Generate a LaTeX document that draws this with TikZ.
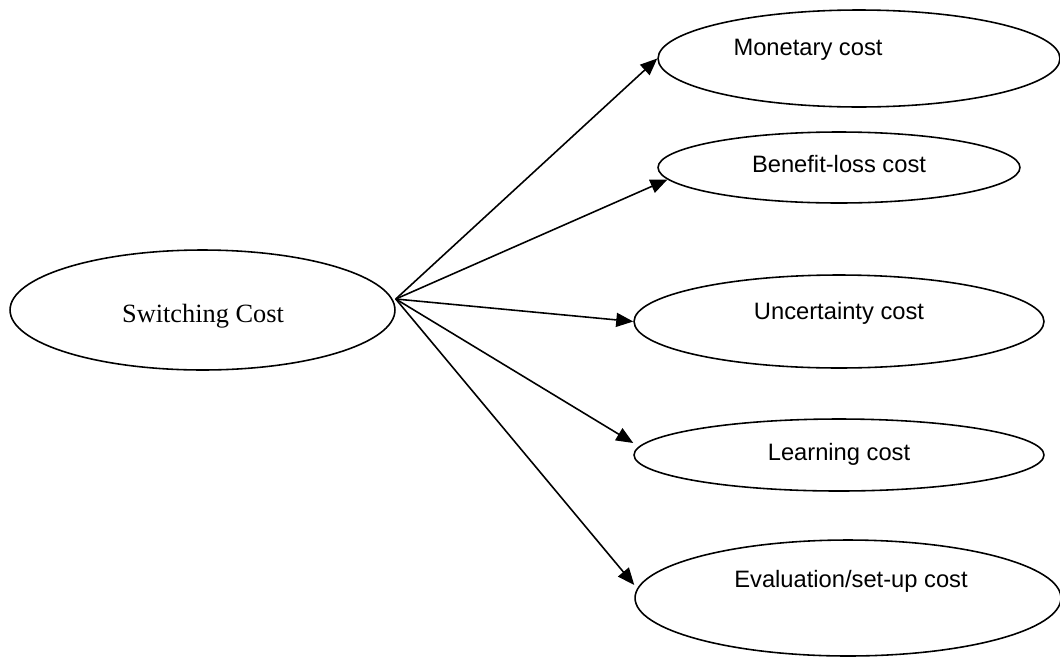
\documentclass[tikz,border=0pt]{standalone}
\usepackage{fontspec}
\setmainfont{Liberation Serif}
\newfontfamily\costfont{Liberation Sans}
\usetikzlibrary{shapes.geometric,arrows.meta}

\begin{document}
\begin{tikzpicture}[
  x=0.02cm, y=-0.02cm,
  costellipse/.style={ellipse, draw, line width=0.9pt, inner sep=0pt},
  costlbl/.style={anchor=base, inner sep=0pt, font=\costfont\fontsize{13.5}{16}\selectfont},
  rootlbl/.style={anchor=base, inner sep=0pt, font=\fontsize{15}{18}\selectfont},
  link/.style={line width=0.9pt, -{Triangle[length=0.34cm, width=0.28cm]}},
]
\useasboundingbox (0,0) rectangle (1060,656);

% ---------- root ----------
\node[costellipse, minimum width=7.7cm, minimum height=2.4cm] (switching) at (202.5,310) {};
\node[rootlbl] (switchingtxt) at (203,322) {Switching Cost};

% ---------- cost types ----------
\node[costellipse, minimum width=8.04cm, minimum height=1.94cm] (monetary) at (859,58.5) {};
\node[costellipse, minimum width=7.24cm, minimum height=1.42cm] (benefit) at (839,167.5) {};
\node[costellipse, minimum width=8.2cm, minimum height=1.86cm] (uncertainty) at (839,321.5) {};
\node[costellipse, minimum width=8.2cm, minimum height=1.44cm] (learning) at (839,455) {};
\node[costellipse, minimum width=8.52cm, minimum height=2.32cm] (evaluation) at (848,598) {};

\node[costlbl] (monetarytxt) at (808,55) {Monetary cost};
\node[costlbl] (benefittxt) at (839,172) {Benefit-loss cost};
\node[costlbl] (uncertaintytxt) at (839,319) {Uncertainty cost};
\node[costlbl] (learningtxt) at (839,460) {Learning cost};
\node[costlbl] (evaluationtxt) at (851,587) {Evaluation/set-up cost};

% ---------- arrows ----------
\coordinate (src) at ([yshift=0.22cm]switching.east);
\foreach \tgt/\ang/\dy in {monetary/180/0cm, benefit/184/0cm, uncertainty/180/0cm,
                           learning/180/0.24cm, evaluation/180/0.26cm} {
  \draw[link] (src) -- ([yshift=\dy]\tgt.\ang);
}

\end{tikzpicture}
\end{document}
